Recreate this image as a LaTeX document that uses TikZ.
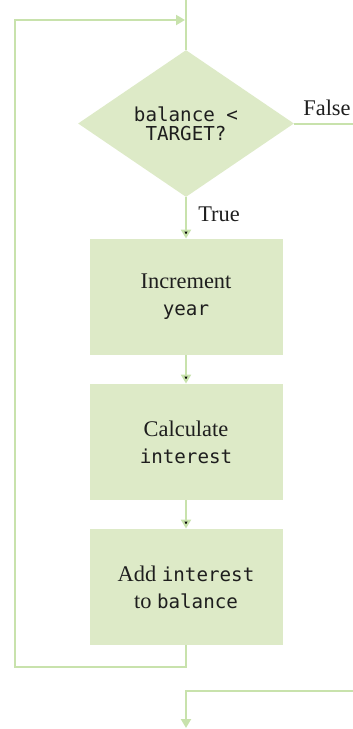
\documentclass[tikz,border=0pt]{standalone}
\usepackage{fontspec}
\setmainfont{Liberation Serif}
\setmonofont{DejaVu Sans Mono}
\usepackage{tikz}
\usetikzlibrary{shapes.geometric,arrows.meta}

\definecolor{boxgreen}{RGB}{221,234,199}
\definecolor{linegreen}{RGB}{200,226,172}
\definecolor{inkgray}{RGB}{30,30,30}

\newcommand{\mono}[1]{{\fontsize{9.6}{13.5}\selectfont\ttfamily #1}}

\begin{document}
\begin{tikzpicture}[x=0.5pt,y=-0.5pt,
	box/.style={rectangle,fill=boxgreen,minimum width=96.5pt,minimum height=58pt,align=center,text=inkgray,font=\fontsize{11.2}{13.5}\selectfont},
	decision/.style={diamond,fill=boxgreen,minimum width=108pt,minimum height=73.5pt,inner sep=0pt,align=center,text=inkgray,font=\fontsize{9.6}{9.5}\selectfont\ttfamily},
	flow/.style={draw=linegreen,line width=1pt},
	tip/.style={-{Triangle[width=5pt,length=4.5pt]}},
	lbl/.style={text=inkgray,font=\fontsize{11.2}{13}\selectfont}]
	
	\useasboundingbox (0,0) rectangle (353,729);
	
	\node[decision] (test) at (186,123.5) {balance <\\TARGET?};
	\node[box]      (incr) at (186,297)   {Increment\\\mono{year}};
	\node[box]      (calc) at (186,442)   {Calculate\\\mono{interest}};
	\node[box]      (add)  at (186,587)   {Add \mono{interest}\\to \mono{balance}};
	
	\coordinate (entry)    at (186,0);
	\coordinate (join)     at (185,20);
	\coordinate (falseend) at (353,123.5);
	\coordinate (exitin)   at (353,691);
	\coordinate (exit)     at (186,728);
	
	\node[lbl] (falselbl) at (327,108) {False};
	\node[lbl] (truelbl)  at (219,214) {True};
	
	\path[flow] (entry) edge (test);
	\path[flow] (test) edge (falseend);
	\path[flow, tip] (test) edge (incr);
	\path[flow, tip] (incr) edge (calc);
	\path[flow, tip] (calc) edge (add);
	
	\draw[flow, tip] (add.south) -- ++(0,22) -| (15,20) -- (join);
	\draw[flow, tip] (exitin) -| (exit);
	
\end{tikzpicture}
\end{document}
